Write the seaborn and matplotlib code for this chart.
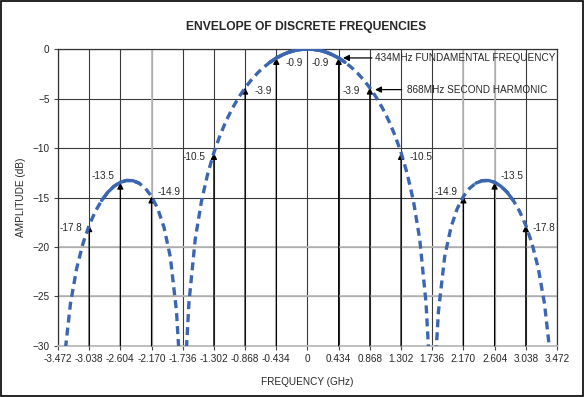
import matplotlib
matplotlib.use("Agg")
import matplotlib.pyplot as plt
import seaborn as sns
import pandas as pd
from matplotlib.patches import Rectangle

# envelope (positive half, mirrored for the negative side)
main_freq = [0.0, 0.0868, 0.1736, 0.2604, 0.3472, 0.434, 0.5208, 0.6076, 0.6944, 0.7812,
             0.868, 0.9548, 1.0416, 1.1284, 1.2152, 1.302, 1.3888, 1.4756, 1.5624, 1.6492, 1.6839]
main_db = [0.0, -0.04, -0.14, -0.32, -0.58, -0.91, -1.33, -1.83, -2.42, -3.12,
           -3.92, -4.86, -5.94, -7.20, -8.69, -10.45, -12.62, -15.39, -19.23, -25.61, -30.21]
side_freq = [1.7881, 1.8228, 1.9096, 1.9964, 2.0832, 2.17, 2.2568, 2.3436, 2.4304, 2.5172,
             2.604, 2.6908, 2.7776, 2.8644, 2.9512, 3.038, 3.1248, 3.2116, 3.2984, 3.3678]
side_db = [-30.73, -26.48, -20.97, -18.02, -16.14, -14.89, -14.06, -13.55, -13.30, -13.28,
           -13.46, -13.86, -14.46, -15.30, -16.39, -17.81, -19.66, -22.15, -25.72, -30.25]

# discrete harmonics (positive side)
harm_freq = [0.434, 0.868, 1.302, 2.170, 2.604, 3.038]
harm_db = [-0.9, -3.9, -10.5, -14.9, -13.5, -17.8]
harm_labels = ["-0.9", "-3.9", "-10.5", "-14.9", "-13.5", "-17.8"]

xtick_vals = [-3.472, -3.038, -2.604, -2.170, -1.736, -1.302, -0.868, -0.434, 0,
              0.434, 0.868, 1.302, 1.736, 2.170, 2.604, 3.038, 3.472]
xtick_labels = ["-3.472", "-3.038", "-2.604", "-2.170", "-1.736", "-1.302", "-0.868", "-0.434", "0",
                "0.434", "0.868", "1.302", "1.736", "2.170", "2.604", "3.038", "3.472"]
ytick_vals = [0, -5, -10, -15, -20, -25, -30]

# build lobes
rows = []
for f, d in zip(main_freq[::-1], main_db[::-1]):
    rows.append(("main", -f, d))
for f, d in zip(main_freq[1:], main_db[1:]):
    rows.append(("main", f, d))
for f, d in zip(side_freq[::-1], side_db[::-1]):
    rows.append(("left", -f, d))
for f, d in zip(side_freq, side_db):
    rows.append(("right", f, d))
df = pd.DataFrame(rows, columns=["lobe", "freq", "db"])

sns.set_style("white")
plt.rcParams["font.family"] = ["Liberation Sans", "DejaVu Sans"]

fig = plt.figure(figsize=(5.85, 3.97), dpi=100)
ax = fig.add_axes([0.0991, 0.1285, 0.853, 0.748])

blue = "#3c66b1"
sns.lineplot(data=df, x="freq", y="db", units="lobe", estimator=None, sort=False,
             color=blue, lw=2.4, linestyle=(0, (2.4, 1.5)), ax=ax, zorder=4)
# flat parts of the curve look solid in the original
flat = df[(df["freq"].abs() <= 0.53) | ((df["freq"].abs() >= 2.34) & (df["freq"].abs() <= 2.87))]
for key, g in flat.groupby([flat["lobe"], flat["freq"] > 0]):
    if key[0] == "main":
        g = flat[flat["lobe"] == "main"]
    sns.lineplot(data=g, x="freq", y="db", estimator=None, sort=False,
                 color=blue, lw=2.4, ax=ax, zorder=4)

ax.set_xlim(-3.472, 3.472)
ax.set_ylim(-30, 0)
ax.set_xticks(xtick_vals)
ax.set_xticklabels(xtick_labels)
ax.set_yticks(ytick_vals)
ax.grid(True, color="#3a3a3a", lw=0.8)
for x in [-2.170, 2.170, 2.604]:
    ax.axvline(x, color="#bbbbbb", lw=1.3, zorder=1.5)
for y in [-20, -25]:
    ax.axhline(y, color="#bbbbbb", lw=1.3, zorder=1.5)
ax.set_axisbelow(True)
for s in ax.spines.values():
    s.set_color("#333333")
    s.set_linewidth(0.9)
ax.spines["bottom"].set_color("#bbbbbb")
ax.spines["bottom"].set_linewidth(1.3)
ax.tick_params(axis="both", which="both", length=3, width=0.8, color="#444444",
               labelsize=7.2, pad=3, direction="out", bottom=True, left=True)

# arrows and labels for each harmonic
label_dx = [7, 7, -6, 4, -4, -5]     # offset (px) on the positive side; mirrored on the negative side
label_y = [-1.4, -4.2, -10.9, -14.4, -12.8, -18.1]
for f, d, lab, dx, ly in zip(harm_freq, harm_db, harm_labels, label_dx, label_y):
    for sgn in (-1, 1):
        x = sgn * f
        ax.annotate("", xy=(x, d), xytext=(x, -30),
                    arrowprops=dict(arrowstyle="-|>", color="black", lw=0.9,
                                    mutation_scale=9, shrinkA=0, shrinkB=0), zorder=3)
        off = -dx * sgn
        ha = "left" if off > 0 else "right"
        ax.annotate(lab, xy=(x, ly), xytext=(off, 0), textcoords="offset points",
                    ha=ha, va="center", fontsize=7.2, zorder=6)

ax.annotate("", xy=(0.494, -0.9), xytext=(0.897, -0.9),
            arrowprops=dict(arrowstyle="-|>", color="black", lw=0.9,
                            mutation_scale=9, shrinkA=0, shrinkB=0), zorder=6)
ax.text(0.94, -0.9, "434MHz FUNDAMENTAL FREQUENCY", ha="left", va="center", fontsize=7.2, zorder=6)
ax.annotate("", xy=(0.94, -4.1), xytext=(1.311, -4.1),
            arrowprops=dict(arrowstyle="-|>", color="black", lw=0.9,
                            mutation_scale=9, shrinkA=0, shrinkB=0), zorder=6)
ax.text(1.38, -4.1, "868MHz SECOND HARMONIC", ha="left", va="center", fontsize=7.2, zorder=6)

ax.set_xlabel("FREQUENCY (GHz)", fontsize=7.2, labelpad=9)
ax.set_ylabel("AMPLITUDE (dB)", fontsize=7.2, labelpad=5)
fig.text(0.524, 0.932, "ENVELOPE OF DISCRETE FREQUENCIES", ha="center", va="center",
         fontsize=8.7, fontweight="bold")

fig.patches.append(Rectangle((0.001, 0.002), 0.995, 0.996, transform=fig.transFigure,
                             fill=False, edgecolor="black", lw=1.2))

fig.savefig("out.png", dpi=100)
